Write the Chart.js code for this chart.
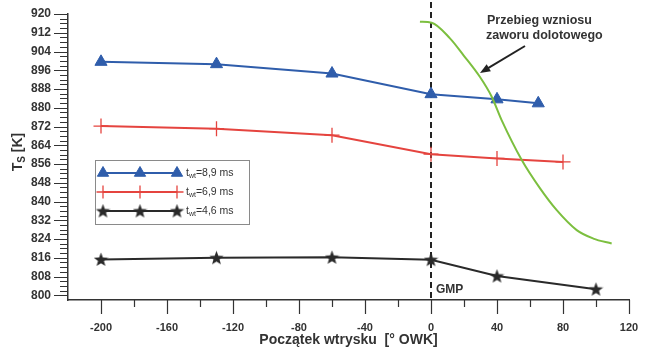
<!DOCTYPE html>
<html>
<head>
<meta charset="utf-8">
<script src="https://cdn.jsdelivr.net/npm/chart.js@4.4.0/dist/chart.umd.min.js"></script>
<style>
  html, body { margin: 0; padding: 0; background: #fff; }
  #wrap { width: 651px; height: 349px; position: relative; }
</style>
</head>
<body>
<div id="wrap"><canvas id="chart"></canvas></div>
<script>
// injection start angle [° OWK] and surface temperature Ts [K] per injection time
const seriesNames = ['8,9 ms', '6,9 ms', '4,6 ms'];
const start89 = [-200, -130, -60, 0, 40, 65];
const ts89    = [899.6, 898.6, 894.6, 885.8, 883.6, 881.9];
const start69 = [-200, -130, -60, 0, 40, 80];
const ts69    = [872.2, 871.1, 868.3, 860.2, 858.4, 856.9];
const start46 = [-200, -130, -60, 0, 40, 100];
const ts46    = [815.3, 816.0, 816.2, 815.2, 808.2, 802.6];

// intake valve lift curve (shape only, plotted on the Ts scale)
const liftX = [-6.7, 0.4, 11.5, 19.6, 29.7, 36.8, 42.8, 55.0, 66.1, 76.2, 88.3, 98.4, 109.5];
const liftY = [916.7, 916.3, 909.6, 902.5, 893.1, 884.7, 874.7, 857.7, 845.6, 836.3, 827.8, 824.2, 822.1];

const xTickLabels = [-200, -160, -120, -80, -40, 0, 40, 80, 120];
const xMinorTicks = [-180, -140, -100, -60, -20, 20, 60, 100];
const yTickLabels = [800, 808, 816, 824, 832, 840, 848, 856, 864, 872, 880, 888, 896, 904, 912, 920];

const BLUE = '#2f5dab', RED = '#e5443f', BLACK = '#2a2a2a', GREEN = '#7cbf3f', AXIS = '#333';
const FONT = '"Liberation Sans", Arial, sans-serif';

const zip = (xs, ys) => xs.map((x, i) => ({ x, y: ys[i] }));

function starImage(size, color) {
  const c = document.createElement('canvas');
  c.width = c.height = size;
  const g = c.getContext('2d');
  g.fillStyle = color;
  g.beginPath();
  for (let i = 0; i < 10; i++) {
    const r = i % 2 ? size * 0.21 : size * 0.5;
    const a = -Math.PI / 2 + i * Math.PI / 5;
    const px = size / 2 + r * Math.cos(a), py = size / 2 + 0.5 + r * Math.sin(a);
    i ? g.lineTo(px, py) : g.moveTo(px, py);
  }
  g.closePath();
  g.fill();
  return c;
}
const STAR = starImage(15, BLACK);

// text with subscripts: parts = [[text, isSub], ...]
function drawRich(ctx, parts, x, y, size, weight) {
  let cx = x;
  parts.forEach(([txt, sub]) => {
    ctx.font = `${weight} ${sub ? Math.round(size * 0.7) : size}px ${FONT}`;
    ctx.fillText(txt, cx, sub ? y + size * 0.3 : y);
    cx += ctx.measureText(txt).width;
  });
  return cx - x;
}
function richWidth(ctx, parts, size, weight) {
  return parts.reduce((w, [txt, sub]) => {
    ctx.font = `${weight} ${sub ? Math.round(size * 0.7) : size}px ${FONT}`;
    return w + ctx.measureText(txt).width;
  }, 0);
}

const decorPlugin = {
  id: 'decor',
  beforeDatasetsDraw(chart) {
    const { ctx, chartArea: a, scales: { x } } = chart;
    // GMP dashed line
    const x0 = x.getPixelForValue(0);
    ctx.save();
    ctx.strokeStyle = '#222';
    ctx.lineWidth = 2;
    ctx.setLineDash([6, 4]);
    ctx.beginPath();
    ctx.moveTo(x0, 2);
    ctx.lineTo(x0, a.bottom);
    ctx.stroke();
    ctx.restore();
  },
  afterDraw(chart) {
    const { ctx, chartArea: a, scales: { x, y } } = chart;
    ctx.save();
    // tick marks
    ctx.strokeStyle = AXIS;
    ctx.lineWidth = 1.2;
    ctx.beginPath();
    for (let v = 800; v <= 920; v += 2) {
      const py = Math.round(y.getPixelForValue(v)) + 0.5;
      const len = v % 8 === 0 ? 14 : 8;
      ctx.moveTo(a.left - len, py);
      ctx.lineTo(a.left, py);
    }
    xTickLabels.forEach(v => {
      const px = Math.round(x.getPixelForValue(v)) + 0.5;
      ctx.moveTo(px, a.bottom); ctx.lineTo(px, a.bottom + 14);
    });
    xMinorTicks.forEach(v => {
      const px = Math.round(x.getPixelForValue(v)) + 0.5;
      ctx.moveTo(px, a.bottom); ctx.lineTo(px, a.bottom + 7);
    });
    ctx.stroke();

    // y axis title with subscript
    ctx.fillStyle = '#333';
    ctx.textBaseline = 'middle';
    ctx.translate(18, 152);
    ctx.rotate(-Math.PI / 2);
    const yt = [['T', false], ['S', true], [' [K]', false]];
    drawRich(ctx, yt, -richWidth(ctx, yt, 14, 'bold') / 2, 0, 14, 'bold');
    ctx.setTransform(1, 0, 0, 1, 0, 0);

    // GMP label
    ctx.font = `bold 12px ${FONT}`;
    ctx.textAlign = 'left';
    ctx.fillText('GMP', x.getPixelForValue(0) + 5, 290);

    // valve lift annotation
    ctx.font = `bold 12.5px ${FONT}`;
    ctx.fillText('Przebieg wzniosu', 487, 21);
    ctx.fillText('zaworu dolotowego', 486, 36);
    const ax0 = 525, ay0 = 46, ax1 = 480, ay1 = 73;
    const ang = Math.atan2(ay1 - ay0, ax1 - ax0);
    ctx.strokeStyle = '#222';
    ctx.fillStyle = '#222';
    ctx.lineWidth = 2;
    ctx.beginPath();
    ctx.moveTo(ax0, ay0);
    ctx.lineTo(ax1 - 6 * Math.cos(ang), ay1 - 6 * Math.sin(ang));
    ctx.stroke();
    ctx.beginPath();
    ctx.moveTo(ax1, ay1);
    ctx.lineTo(ax1 - 11 * Math.cos(ang - 0.38), ay1 - 11 * Math.sin(ang - 0.38));
    ctx.lineTo(ax1 - 11 * Math.cos(ang + 0.38), ay1 - 11 * Math.sin(ang + 0.38));
    ctx.closePath();
    ctx.fill();

    // legend box
    const lg = { l: 95, t: 160, r: 249, b: 224 };
    ctx.fillStyle = '#fff';
    ctx.fillRect(lg.l, lg.t, lg.r - lg.l, lg.b - lg.t);
    ctx.strokeStyle = '#8a8a8a';
    ctx.lineWidth = 1;
    ctx.strokeRect(lg.l + 0.5, lg.t + 0.5, lg.r - lg.l, lg.b - lg.t);
    const rows = [173, 192, 211];
    chart.data.datasets.slice(1).forEach((ds, i) => {
      const ry = rows[i];
      ctx.strokeStyle = ds.borderColor;
      ctx.fillStyle = ds.pointBackgroundColor;
      ctx.lineWidth = 2;
      ctx.beginPath();
      ctx.moveTo(103, ry); ctx.lineTo(177, ry);
      ctx.stroke();
      [103, 140, 177].forEach(px => {
        ctx.lineWidth = ds.pointBorderWidth;
        ctx.strokeStyle = ds.pointBorderColor;
        Chart.helpers.drawPoint(ctx, { pointStyle: ds.pointStyle, radius: ds.legendRadius, rotation: 0, borderWidth: ds.pointBorderWidth }, px, ry);
      });
      ctx.fillStyle = '#333';
      ctx.textBaseline = 'middle';
      drawRich(ctx, [['t', false], ['wt', true], ['=' + seriesNames[i], false]], 186, ry, 10.5, 'normal');
    });
    ctx.restore();
  }
};

new Chart(document.getElementById('chart'), {
  type: 'line',
  data: {
    datasets: [
      { label: 'Przebieg wzniosu zaworu dolotowego', data: zip(liftX, liftY), borderColor: GREEN, borderWidth: 2,
        pointRadius: 0, cubicInterpolationMode: 'monotone', fill: false },
      { label: 't_wt=' + seriesNames[0], data: zip(start89, ts89), borderColor: BLUE, borderWidth: 2,
        pointStyle: 'triangle', pointRadius: 7, legendRadius: 6.5, pointBackgroundColor: BLUE, pointBorderColor: BLUE, pointBorderWidth: 1 },
      { label: 't_wt=' + seriesNames[1], data: zip(start69, ts69), borderColor: RED, borderWidth: 2,
        pointStyle: 'cross', pointRadius: 7.5, legendRadius: 6.5, pointBackgroundColor: RED, pointBorderColor: RED, pointBorderWidth: 1.3 },
      { label: 't_wt=' + seriesNames[2], data: zip(start46, ts46), borderColor: BLACK, borderWidth: 2,
        pointStyle: STAR, pointRadius: 7, legendRadius: 7, pointBackgroundColor: BLACK, pointBorderColor: BLACK, pointBorderWidth: 1 }
    ]
  },
  options: {
    responsive: true,
    maintainAspectRatio: false,
    animation: false,
    layout: { padding: { left: 0, top: 14, right: 22, bottom: 0 } },
    plugins: { legend: { display: false }, tooltip: { enabled: false } },
    scales: {
      x: {
        type: 'linear', min: -220, max: 120,
        afterBuildTicks: s => { s.ticks = xTickLabels.map(v => ({ value: v })); },
        afterFit: s => { s.height = 49; },
        ticks: { autoSkip: false, maxRotation: 0, padding: 0, color: '#333', font: { family: FONT, size: 11, weight: 'bold' }, callback: v => String(v) },
        grid: { drawOnChartArea: false, drawTicks: true, tickLength: 21, tickColor: 'rgba(0,0,0,0)' },
        border: { display: true, color: AXIS, width: 1.5 },
        title: { display: true, text: 'Początek wtrysku  [° OWK]', color: '#333', padding: { top: 0, bottom: 0 }, font: { family: FONT, size: 14, weight: 'bold' } }
      },
      y: {
        min: 798, max: 920,
        afterBuildTicks: s => { s.ticks = yTickLabels.map(v => ({ value: v })); },
        afterFit: s => { s.width = 68; },
        ticks: { autoSkip: false, padding: 0, color: '#333', font: { family: FONT, size: 12, weight: 'bold' }, callback: v => String(v) },
        grid: { drawOnChartArea: false, drawTicks: true, tickLength: 17, tickColor: 'rgba(0,0,0,0)' },
        border: { display: true, color: AXIS, width: 1.5 }
      }
    }
  },
  plugins: [decorPlugin]
});
</script>
</body>
</html>
